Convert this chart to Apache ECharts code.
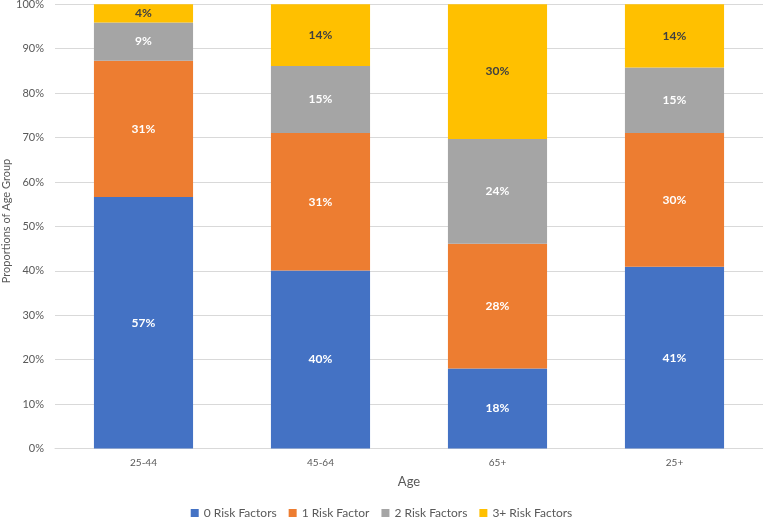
<!DOCTYPE html>
<html><head><meta charset="utf-8">
<script src="https://cdn.jsdelivr.net/npm/echarts@6/dist/echarts.min.js"></script>
<style>html,body{margin:0;padding:0;background:#fff}#c{width:763px;height:518px}</style>
</head><body><div id="c"></div>
<script>
const categories = ['25-44', '45-64', '65+', '25+'];
const zeroRisk = [56.6, 40.1, 18.0, 40.9];
const oneRisk = [30.7, 30.9, 28.1, 30.1];
const twoRisk = [8.6, 15.1, 23.6, 14.8];
const threeRisk = [4.1, 13.9, 30.3, 14.2];
const seriesNames = ['0 Risk Factors', '1 Risk Factor', '2 Risk Factors', '3+ Risk Factors'];
const colors = ['#4472C4', '#ED7D31', '#A5A5A5', '#FFC000'];
const labelColors = ['#ffffff', '#ffffff', '#ffffff', '#404040'];
const yTicks = [0, 10, 20, 30, 40, 50, 60, 70, 80, 90, 100];
const yTitle = 'Proportions of Age Group';
const xTitle = 'Age';

const font = 'Lato';
const chart = echarts.init(document.getElementById('c'));
const data = [zeroRisk, oneRisk, twoRisk, threeRisk];
chart.setOption({
  animation: false,
  textStyle: {fontFamily: font},
  grid: {left: 55, right: 0, top: 4.3, bottom: 69.5, containLabel: false, outerBoundsMode: 'none'},
  legend: {
    bottom: -6, left: 'center', itemWidth: 8, itemHeight: 8, itemGap: 12,
    icon: 'rect',
    textStyle: {color: '#595959', fontSize: 12, fontFamily: font},
    data: seriesNames
  },
  graphic: [{
    type: 'text', x: 6, y: 221, rotation: Math.PI / 2,
    style: {text: yTitle, fill: '#595959', font: '11px Lato', align: 'center', verticalAlign: 'middle'}
  }],
  xAxis: {
    type: 'category', data: categories,
    name: xTitle, nameLocation: 'middle', nameGap: 27,
    nameTextStyle: {color: '#595959', fontSize: 13, fontFamily: font},
    axisLine: {lineStyle: {color: '#D9D9D9'}},
    axisTick: {show: false},
    axisLabel: {color: '#595959', fontSize: 10, margin: 9}
  },
  yAxis: {
    type: 'value', min: yTicks[0], max: yTicks[yTicks.length - 1], interval: 10,
    axisLabel: {color: '#595959', fontSize: 11, margin: 11, formatter: v => v + '%'},
    splitLine: {lineStyle: {color: '#D9D9D9'}},
    axisLine: {show: false}, axisTick: {show: false}
  },
  series: data.map((d, i) => ({
    name: seriesNames[i], type: 'bar', stack: 'total', data: d,
    barWidth: '56%',
    itemStyle: {color: colors[i]},
    label: {
      show: true, position: 'inside', color: labelColors[i],
      fontWeight: 'bold', fontSize: 12, fontFamily: font,
      formatter: p => Math.round(p.value) + '%'
    }
  }))
});
</script></body></html>
